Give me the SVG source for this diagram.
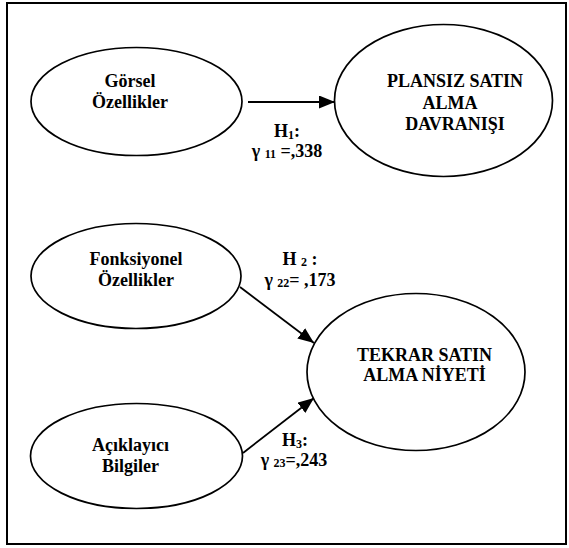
<svg xmlns="http://www.w3.org/2000/svg" width="569" height="548" viewBox="0 0 569 548">
<style>
.n{fill:#fff;stroke:#000;stroke-width:1.7}
.t{font-family:'Liberation Serif','Times New Roman',Times,serif;font-weight:700;font-size:18px;fill:#000;text-anchor:middle}
.s{font-size:12px}
.c{stroke:#000;stroke-width:1.8;fill:none}
</style>
<defs>
<marker id="ah" markerUnits="userSpaceOnUse" markerWidth="18" markerHeight="14" refX="16" refY="6.5" orient="auto">
<path d="M0,0 L16,6.5 L0,13 Z" fill="#000"/>
</marker>
</defs>
<rect x="7" y="3" width="559" height="541" fill="#fff" stroke="#000" stroke-width="2"/>
<g id="connectors">
<line class="c" x1="248" y1="102" x2="335" y2="102" marker-end="url(#ah)"/>
<line class="c" x1="240" y1="287" x2="314" y2="343" marker-end="url(#ah)"/>
<line class="c" x1="243" y1="453" x2="314" y2="398" marker-end="url(#ah)"/>
<text class="t" font-family="Liberation Serif, serif" x="287" y="137">H<tspan class="s" dy="2">1</tspan><tspan dy="-2">:</tspan></text>
<text class="t" font-family="Liberation Serif, serif" x="287" y="157">γ <tspan class="s" dy="1">11</tspan><tspan dy="-1"> =,338</tspan></text>
<text class="t" font-family="Liberation Serif, serif" x="300" y="265">H <tspan class="s" dy="1">2</tspan><tspan dy="-1"> :</tspan></text>
<text class="t" font-family="Liberation Serif, serif" x="300" y="286">γ <tspan class="s" dy="1">22</tspan><tspan dy="-1">= ,173</tspan></text>
<text class="t" font-family="Liberation Serif, serif" x="295" y="446">H<tspan class="s" dy="2">3</tspan><tspan dy="-2">:</tspan></text>
<text class="t" font-family="Liberation Serif, serif" x="294" y="466">γ <tspan class="s" dy="1">23</tspan><tspan dy="-1">=,243</tspan></text>
</g>
<g id="gorsel">
<ellipse class="n" cx="136.5" cy="101.5" rx="105.5" ry="54"/>
<text class="t" font-family="Liberation Serif, serif" x="130" y="87">Görsel</text>
<text class="t" font-family="Liberation Serif, serif" x="130" y="107.5">Özellikler</text>
</g>
<g id="plansiz">
<ellipse class="n" cx="443.5" cy="100.5" rx="109" ry="76"/>
<text class="t" font-family="Liberation Serif, serif" x="455" y="87">PLANSIZ SATIN</text>
<text class="t" font-family="Liberation Serif, serif" x="450" y="109">ALMA</text>
<text class="t" font-family="Liberation Serif, serif" x="455" y="129.5">DAVRANIŞI</text>
</g>
<g id="fonksiyonel">
<ellipse class="n" cx="136" cy="276" rx="105" ry="52.5"/>
<text class="t" font-family="Liberation Serif, serif" x="136" y="265">Fonksiyonel</text>
<text class="t" font-family="Liberation Serif, serif" x="136" y="286">Özellikler</text>
</g>
<g id="tekrar">
<ellipse class="n" cx="416" cy="372" rx="109" ry="78.5"/>
<text class="t" font-family="Liberation Serif, serif" x="424.5" y="360.5">TEKRAR SATIN</text>
<text class="t" font-family="Liberation Serif, serif" x="424.5" y="380.5">ALMA NİYETİ</text>
</g>
<g id="aciklayici">
<ellipse class="n" cx="136.5" cy="456" rx="106" ry="52.5"/>
<text class="t" font-family="Liberation Serif, serif" x="130.5" y="451">Açıklayıcı</text>
<text class="t" font-family="Liberation Serif, serif" x="130.5" y="472">Bilgiler</text>
</g>
</svg>
